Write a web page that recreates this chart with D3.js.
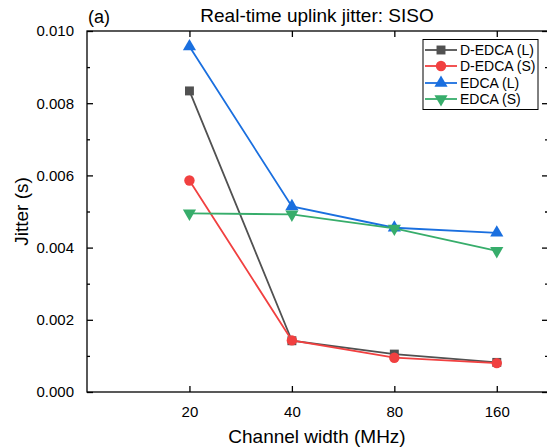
<!DOCTYPE html>
<html>
<head>
<meta charset="utf-8">
<script src="https://cdn.jsdelivr.net/npm/d3@7"></script>
<style>
  body { margin: 0; background: #fff; }
  text { font-family: Arial, "Liberation Sans", sans-serif; fill: #000; }
</style>
</head>
<body>
<script>
var categories = ["20", "40", "80", "160"];
var dedcaL = [0.00834, 0.00142, 0.00105, 0.00082];
var dedcaS = [0.00586, 0.00143, 0.00095, 0.00080];
var edcaL = [0.00957, 0.00514, 0.00455, 0.00441];
var edcaS = [0.00495, 0.00492, 0.00453, 0.00391];
var yTicks = [0, 0.002, 0.004, 0.006, 0.008, 0.010];
var yMinor = [0.001, 0.003, 0.005, 0.007, 0.009];

var series = [
  { name: "D-EDCA (L)", values: dedcaL, color: "#515151", shape: d3.symbolSquare, size: 80, rot: 0 },
  { name: "D-EDCA (S)", values: dedcaS, color: "#f14040", shape: d3.symbolCircle, size: 85, rot: 0 },
  { name: "EDCA (L)", values: edcaL, color: "#1a6fdf", shape: d3.symbolTriangle, size: 75, rot: 0 },
  { name: "EDCA (S)", values: edcaS, color: "#37ad6b", shape: d3.symbolTriangle, size: 75, rot: 180 }
];

var W = 547, H = 447;
var mLeft = 87, mRight = 548, mTop = 31, mBottom = 392;

var svg = d3.select("body").append("svg")
    .attr("width", W)
    .attr("height", H);

// index scale: category i sits at i, frame spans -1 .. 3.5
var x = d3.scaleLinear().domain([-1, 3.5]).range([mLeft, mRight]);
var y = d3.scaleLinear().domain([0, 0.010]).range([mBottom, mTop]);

// frame
svg.append("rect")
    .attr("x", mLeft).attr("y", mTop)
    .attr("width", mRight - mLeft).attr("height", mBottom - mTop)
    .attr("fill", "none").attr("stroke", "#000").attr("stroke-width", 1.3);

// y axis, ticks inward
var yAxis = d3.axisLeft(y).tickValues(yTicks).tickFormat(d3.format(".3f")).tickSize(-6).tickPadding(13);
var gy = svg.append("g").attr("transform", "translate(" + mLeft + ",0)").call(yAxis);
gy.select(".domain").remove();
gy.selectAll("text").style("font-size", "15px").attr("font-family", null);
svg.append("g").attr("transform", "translate(" + mLeft + ",0)")
    .call(d3.axisLeft(y).tickValues(yMinor).tickFormat("").tickSize(-3))
    .select(".domain").remove();

// right side ticks
var gr = svg.append("g").attr("transform", "translate(" + mRight + ",0)");
gr.call(d3.axisRight(y).tickValues(yTicks).tickFormat("").tickSize(-6)).select(".domain").remove();
var gr2 = svg.append("g").attr("transform", "translate(" + mRight + ",0)");
gr2.call(d3.axisRight(y).tickValues(yMinor).tickFormat("").tickSize(-3)).select(".domain").remove();

// x axis
var xAxis = d3.axisBottom(x).tickValues([0, 1, 2, 3])
    .tickFormat(function (d) { return categories[d]; }).tickSize(-6).tickPadding(14);
var gx = svg.append("g").attr("transform", "translate(0," + mBottom + ")").call(xAxis);
gx.select(".domain").remove();
gx.selectAll("text").style("font-size", "15px").attr("font-family", null);
svg.append("g").attr("transform", "translate(0," + mTop + ")")
    .call(d3.axisTop(x).tickValues([0, 1, 2, 3]).tickFormat("").tickSize(-6))
    .select(".domain").remove();

svg.selectAll(".tick line").attr("stroke-width", 1.3);

// lines and markers
var line = d3.line()
    .x(function (d, i) { return x(i); })
    .y(function (d) { return y(d); });

series.forEach(function (s) {
  svg.append("path")
      .datum(s.values)
      .attr("d", line)
      .attr("fill", "none")
      .attr("stroke", s.color)
      .attr("stroke-width", 1.8);
  svg.selectAll(null)
      .data(s.values)
      .enter()
      .append("path")
      .attr("d", d3.symbol().type(s.shape).size(s.size))
      .attr("transform", function (d, i) {
        return "translate(" + x(i) + "," + y(d) + ") rotate(" + s.rot + ")";
      })
      .attr("fill", s.color);
});

// legend
var lg = svg.append("g");
lg.append("rect")
    .attr("x", 423).attr("y", 39.5).attr("width", 115).attr("height", 70)
    .attr("fill", "#fff").attr("stroke", "#000").attr("stroke-width", 1);
var rowY = [50, 66, 83, 99];
series.forEach(function (s, i) {
  lg.append("line")
      .attr("x1", 425).attr("x2", 457)
      .attr("y1", rowY[i]).attr("y2", rowY[i])
      .attr("stroke", s.color).attr("stroke-width", 1.8);
  lg.append("path")
      .attr("d", d3.symbol().type(s.shape).size(s.size))
      .attr("transform", "translate(441," + rowY[i] + ") rotate(" + s.rot + ")")
      .attr("fill", s.color);
  lg.append("text")
      .attr("x", 460).attr("y", rowY[i] + 5)
      .style("font-size", "14px")
      .text(s.name);
});

// titles
svg.append("text")
    .attr("x", 317).attr("y", 22)
    .attr("text-anchor", "middle")
    .style("font-size", "19px")
    .text("Real-time uplink jitter: SISO");
svg.append("text")
    .attr("x", 88).attr("y", 23)
    .style("font-size", "18px")
    .text("(a)");
svg.append("text")
    .attr("x", 317).attr("y", 443)
    .attr("text-anchor", "middle")
    .style("font-size", "19px")
    .text("Channel width (MHz)");
svg.append("text")
    .attr("transform", "translate(28," + ((mTop + mBottom) / 2) + ") rotate(-90)")
    .attr("text-anchor", "middle")
    .style("font-size", "19px")
    .text("Jitter (s)");
</script>
</body>
</html>
